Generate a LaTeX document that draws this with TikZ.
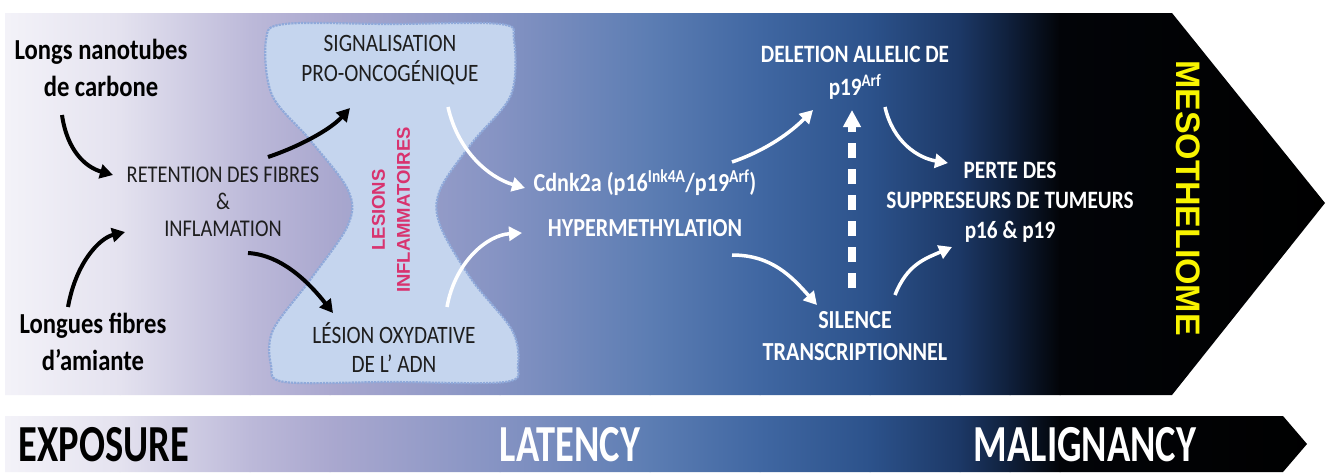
\documentclass[tikz,border=0pt]{standalone}
\usepackage{fontspec}
\setmainfont{Carlito}[FakeStretch=0.85]
\newfontfamily\arialfont{Liberation Sans}
\newfontfamily\narrowfont{Carlito}[FakeStretch=0.74]
\usetikzlibrary{arrows.meta,calc}
\definecolor{g0}{HTML}{F4F3F9}
\definecolor{g1}{HTML}{E4E2EF}
\definecolor{g2}{HTML}{BCB9D9}
\definecolor{g3}{HTML}{AAA8CF}
\definecolor{g4}{HTML}{8593C3}
\definecolor{g5}{HTML}{5C7DB3}
\definecolor{g6}{HTML}{4067A2}
\definecolor{g7}{HTML}{2C528B}
\definecolor{g8}{HTML}{1C3866}
\definecolor{g9}{HTML}{0F1F3A}
\definecolor{g10}{HTML}{020408}
\definecolor{g11}{HTML}{000000}
\definecolor{blobfill}{HTML}{C5D5EE}
\definecolor{blobline}{HTML}{8FA9DA}
\definecolor{pinktxt}{HTML}{D8336F}
\definecolor{yellowtxt}{HTML}{F8F400}
\definecolor{darktxt}{HTML}{1E1E1E}
\begin{document}
\begin{tikzpicture}[x=1pt,y=-1pt,
  lbl/.style={align=center, inner sep=0pt},
  srcbold/.style={lbl, text=black, font=\fontsize{29}{37}\selectfont\bfseries},
  capsreg/.style={lbl, text=darktxt, font=\fontsize{24}{27}\selectfont},
  whitebold/.style={lbl, text=white, font=\fontsize{26}{32}\selectfont\bfseries},
  phase/.style={lbl, font=\narrowfont\fontsize{52}{54}\selectfont\bfseries},
  blackarr/.style={line width=4pt, black, -{Triangle[length=13pt,width=14pt]}},
  whitearr/.style={line width=3.5pt, white, -{Triangle[length=13pt,width=14pt]}},
  dasharr/.style={line width=8pt, white, dash pattern=on 15pt off 11pt, -{Triangle[length=17pt,width=17pt]}}
]
\useasboundingbox (0,0) rectangle (1328,474);
\fill[white] (0,0) rectangle (1328,474);
% main chevron
\begin{scope}
\clip (5,13) -- (1172,13) -- (1325,203) -- (1172,395) -- (5,395) -- cycle;
\foreach \xa/\xb/\ca/\cb in {0/120/g0/g1,120/250/g1/g2,250/330/g2/g3,330/500/g3/g4,500/650/g4/g5,650/760/g5/g6,760/870/g6/g7,870/960/g7/g8,960/1010/g8/g9,1010/1060/g9/g10,1060/1330/g10/g11}
  {\shade[left color=\ca, right color=\cb] (\xa-0.5,0) rectangle (\xb+0.5,474);}
\end{scope}
% bottom bar
\begin{scope}
\clip (5,416) -- (1283,416) -- (1307,444) -- (1283,472) -- (5,472) -- cycle;
\foreach \xa/\xb/\ca/\cb in {0/120/g0/g1,120/250/g1/g2,250/330/g2/g3,330/500/g3/g4,500/650/g4/g5,650/760/g5/g6,760/870/g6/g7,870/960/g7/g8,960/1010/g8/g9,1010/1060/g9/g10,1060/1330/g10/g11}
  {\shade[left color=\ca, right color=\cb] (\xa-0.5,0) rectangle (\xb+0.5,474);}
\end{scope}
% blob
\draw[fill=blobfill, draw=blobline, line width=2.2pt, densely dotted]
  plot[smooth cycle, tension=0.55] coordinates {(285,24) (390,24) (500,24) (514,40) (511,95) (472,143) (440,190) (440,225) (472,280) (512,330) (518,365) (505,382) (390,382) (285,382) (271,365) (273,330) (310,280) (348,225) (348,190) (310,140) (272,95) (266,40)};
% nodes
\node[srcbold] (carb) at (101,68) {Longs nanotubes\\de carbone};
\node[srcbold] (amia) at (93,342) {Longues fibres\\d’amiante};
\node[capsreg] (ret) at (223,202) {RETENTION DES FIBRES\\\&\\INFLAMATION};
\node[capsreg, font=\fontsize{25}{30}\selectfont] (sig) at (390,60) {SIGNALISATION\\PRO-ONCOGÉNIQUE};
\node[capsreg, font=\fontsize{25}{29}\selectfont] (les) at (394,348) {LÉSION OXYDATIVE\\DE L’ ADN};
\node[lbl, rotate=90, text=pinktxt, font=\arialfont\fontsize{18.5}{25}\selectfont\bfseries] (infl) at (391,210) {LESIONS\\INFLAMMATOIRES};
\node[whitebold] (cdk) at (645,183) {Cdnk2a (p16\textsuperscript{Ink4A}/p19\textsuperscript{Arf})};
\node[whitebold] (hyp) at (645,228) {HYPERMETHYLATION};
\node[whitebold, font=\fontsize{25}{33}\selectfont\bfseries] (del) at (855,73) {DELETION ALLELIC DE\\p19\textsuperscript{Arf}};
\node[whitebold] (sil) at (855,336) {SILENCE\\TRANSCRIPTIONNEL};
\node[whitebold, font=\fontsize{25}{30}\selectfont\bfseries] (perte) at (1010,202) {PERTE DES\\SUPPRESEURS DE TUMEURS\\p16 \& p19};
\node[lbl, rotate=-90, text=yellowtxt, font=\arialfont\fontsize{34}{36}\selectfont\bfseries] (meso) at (1188,198) {MESOTHELIOME};
\node[phase, text=black] (expo) at (104,445) {EXPOSURE};
\node[phase, text=white] (lat) at (570,445) {LATENCY};
\node[phase, text=white] (mal) at (1085,445) {MALIGNANCY};
% black arrows
\draw[blackarr] ($(carb)+(-39,47)$) .. controls +(5,35) and +(-28,-8) .. ($(ret)+(-110,-27)$);
\draw[blackarr] ($(amia)+(-25,-35)$) .. controls +(8,-45) and +(-25,6) .. ($(ret)+(-98,30)$);
\draw[blackarr] ($(ret)+(45,-45)$) .. controls +(30,-10) and +(-20,22) .. ($(sig)+(-40,48)$);
\draw[blackarr] ($(ret)+(25,51)$) .. controls +(35,2) and +(-22,-28) .. ($(les)+(-61,-35)$);
% white arrows
\draw[whitearr] ($(sig)+(58,47)$) .. controls +(10,45) and +(-35,-10) .. ($(cdk)+(-120,5)$);
\draw[whitearr] ($(les)+(53,-41)$) .. controls +(8,-45) and +(-35,2) .. ($(hyp)+(-123,5)$);
\draw[whitearr] ($(cdk)+(87,-21)$) .. controls +(35,-12) and +(-22,22) .. ($(del)+(-42,37)$);
\draw[whitearr] ($(hyp)+(87,27)$) .. controls +(40,0) and +(-25,-28) .. ($(sil)+(-38,-31)$);
\draw[whitearr] ($(del)+(30,34)$) .. controls +(8,35) and +(-30,-5) .. ($(perte)+(-62,-39)$);
\draw[whitearr] ($(sil)+(40,-41)$) .. controls +(12,-30) and +(-28,12) .. ($(perte)+(-58,45)$);
\draw[dasharr] ($(sil)+(-3,-48)$) -- ($(del)+(-3,37)$);
\end{tikzpicture}
\end{document}
